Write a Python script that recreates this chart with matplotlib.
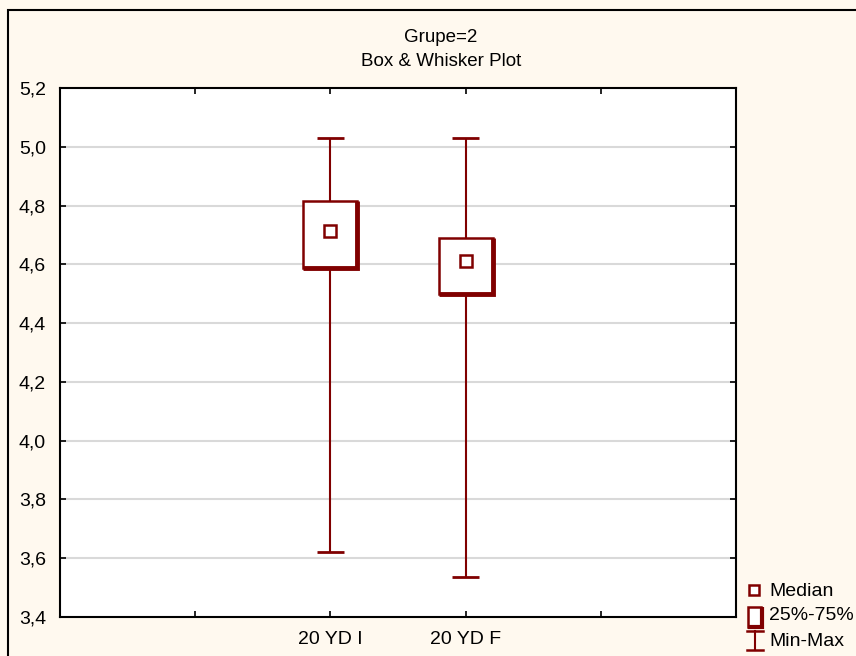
import matplotlib
matplotlib.use("Agg")
import matplotlib.pyplot as plt
from matplotlib.patches import Rectangle
from matplotlib.lines import Line2D
from matplotlib.ticker import FuncFormatter

plt.rcParams['font.family'] = ['Liberation Sans', 'DejaVu Sans']

# ---- data ----
categories = ['20 YD I', '20 YD F']
medians = [4.713, 4.611]
q1 = [4.588, 4.499]
q3 = [4.815, 4.690]
mins = [3.620, 3.536]
maxs = [5.030, 5.030]
title_lines = ['Grupe=2', 'Box & Whisker Plot']
legend_labels = ['Median', '25%-75%', 'Min-Max']

col = '#800000'
bg = '#fff9ef'

fig = plt.figure(figsize=(8.56, 6.56), dpi=100, facecolor=bg)
W, H = 856, 656

# outer frame
fig.add_artist(Rectangle((8 / W, -0.1), 1.2, 1 - 10 / H + 0.1, transform=fig.transFigure,
                         fill=False, edgecolor='black', lw=1.5))

ax = fig.add_axes([60 / W, 1 - 617 / H, (736 - 60) / W, (617 - 88) / H])
ax.set_facecolor('white')
ax.set_xlim(0, 5)
ax.set_ylim(3.4, 5.2)
yt = [3.4 + 0.2 * i for i in range(10)]
ax.set_yticks(yt)
ax.yaxis.set_major_formatter(FuncFormatter(lambda v, p: f'{v:.1f}'.replace('.', ',')))
ax.set_xticks([1, 2, 3, 4])
ax.set_xticklabels([''] + categories + [''])
ax.tick_params(direction='in', length=4, width=1.2, top=True, right=True,
               labelsize=14, colors='black')
ax.tick_params(axis='y', pad=10)
ax.tick_params(axis='x', pad=10)
for s in ax.spines.values():
    s.set_linewidth(1.5)
for y in yt[1:-1]:
    ax.axhline(y, color='#d9d9d9', lw=1.5, zorder=0)

pos = [i + 2 for i in range(len(categories))]
bw = 0.4
cw = 0.2
for x, md, a, b, lo, hi in zip(pos, medians, q1, q3, mins, maxs):
    ax.vlines(x, b, hi, color=col, lw=1.5, zorder=2)
    ax.vlines(x, lo, a, color=col, lw=1.5, zorder=2)
    ax.hlines([lo, hi], x - cw / 2, x + cw / 2, color=col, lw=2, zorder=2)
    ax.add_patch(Rectangle((x - bw / 2, a), bw, b - a, facecolor='white',
                           edgecolor=col, lw=1.8, zorder=3))
    # shadow on right and bottom edges
    ax.plot([x - bw / 2, x + bw / 2, x + bw / 2], [a, a, b], color=col, lw=3.5,
            solid_capstyle='butt', solid_joinstyle='miter', zorder=4)
    ax.plot([x], [md], marker='s', ms=8, mfc='white', mec=col, mew=1.8, zorder=5)

# titles
fig.text(441 / W, 1 - 38 / H, title_lines[0], ha='center', va='center', fontsize=13.5)
fig.text(441 / W, 1 - 62 / H, title_lines[1], ha='center', va='center', fontsize=13.5)

# legend (figure coordinates)
def fx(px): return px / W
def fy(py): return 1 - py / H

fig.add_artist(Line2D([fx(754)], [fy(590)], marker='s', ms=7, mfc='white', mec=col, mew=1.8,
                      transform=fig.transFigure))
fig.add_artist(Rectangle((fx(748), fy(627)), 13 / W, 20 / H, transform=fig.transFigure,
                         facecolor='white', edgecolor=col, lw=1.8))
fig.add_artist(Line2D([fx(748), fx(762), fx(762)], [fy(627), fy(627), fy(607)], color=col, lw=3,
                      transform=fig.transFigure, solid_joinstyle='miter', solid_capstyle='butt'))
fig.add_artist(Line2D([fx(755), fx(755)], [fy(631), fy(650)], color=col, lw=1.5, transform=fig.transFigure))
fig.add_artist(Line2D([fx(747), fx(763)], [fy(631), fy(631)], color=col, lw=1.8, transform=fig.transFigure))
fig.add_artist(Line2D([fx(747), fx(763)], [fy(650), fy(650)], color=col, lw=1.8, transform=fig.transFigure))
for lab, yy in zip(legend_labels, [591, 616, 641]):
    fig.text(fx(769), fy(yy), lab, ha='left', va='center', fontsize=14)

fig.savefig('out.png', dpi=100, facecolor=bg)
